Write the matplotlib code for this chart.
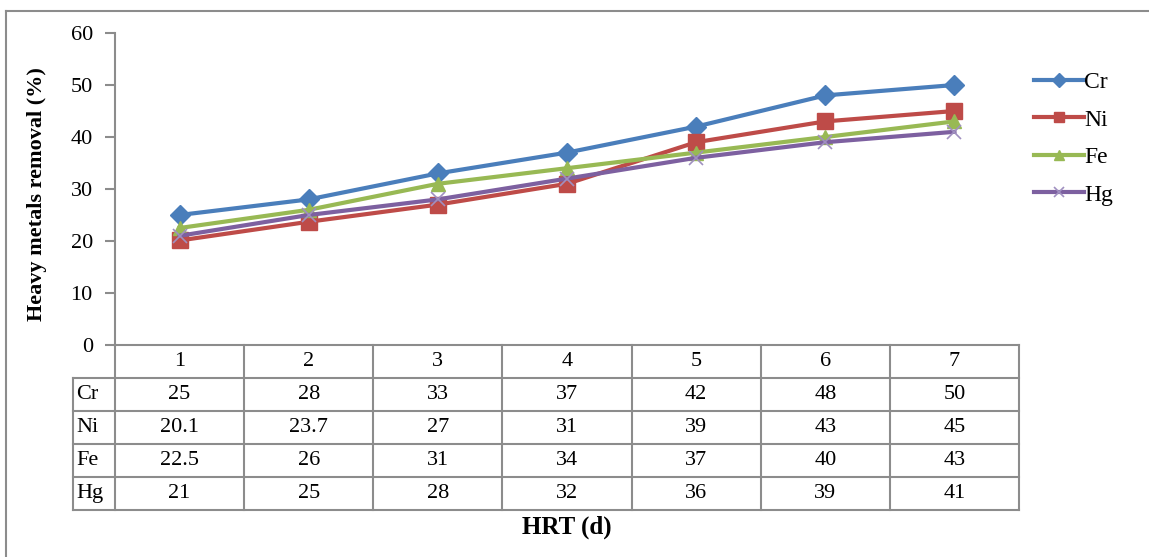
import matplotlib
matplotlib.use("Agg")
import matplotlib.pyplot as plt
from matplotlib.lines import Line2D

plt.rcParams['font.family'] = ['Liberation Serif', 'DejaVu Serif']

hrt = [1, 2, 3, 4, 5, 6, 7]
series_names = ["Cr", "Ni", "Fe", "Hg"]
cr = [25, 28, 33, 37, 42, 48, 50]
ni = [20.1, 23.7, 27, 31, 39, 43, 45]
fe = [22.5, 26, 31, 34, 37, 40, 43]
hg = [21, 25, 28, 32, 36, 39, 41]
table_text = {
    "Cr": ["25", "28", "33", "37", "42", "48", "50"],
    "Ni": ["20.1", "23.7", "27", "31", "39", "43", "45"],
    "Fe": ["22.5", "26", "31", "34", "37", "40", "43"],
    "Hg": ["21", "25", "28", "32", "36", "39", "41"],
}
yticks = [0, 10, 20, 30, 40, 50, 60]

colors = {"Cr": "#4A7EBB", "Ni": "#BE4B48", "Fe": "#98B954", "Hg": "#7D60A0"}
markers = {"Cr": "D", "Ni": "s", "Fe": "^", "Hg": "x"}
values = {"Cr": cr, "Ni": ni, "Fe": fe, "Hg": hg}

W, H = 1149, 557
fig = plt.figure(figsize=(W / 100, H / 100), dpi=100)

def fx(px):
    return px / W

def fy(py):
    return 1 - py / H

FS = 16
gray = "#8C8C8C"
# outer border (top and left)
fig.add_artist(Line2D([fx(6), fx(1160)], [fy(11), fy(11)], color=gray, lw=1.5))
fig.add_artist(Line2D([fx(6), fx(6)], [fy(11), fy(570)], color=gray, lw=1.5))

x0, x1 = 115, 1019
ytop, y0 = 33, 345
ax = fig.add_axes([fx(x0), fy(y0), (x1 - x0) / W, (y0 - ytop) / H])
ax.set_xlim(0.5, 7.5)
ax.set_ylim(0, 60)
ax.set_yticks(yticks)
ax.set_yticklabels([str(v) for v in yticks], fontsize=FS)
ax.set_xticks([])
for s in ["top", "right"]:
    ax.spines[s].set_visible(False)
ax.spines["left"].set_color(gray)
ax.spines["bottom"].set_color(gray)
ax.spines["left"].set_linewidth(1.5)
ax.spines["bottom"].set_linewidth(1.5)
ax.tick_params(axis="y", length=7, width=1.5, color=gray, pad=9)
ax.patch.set_alpha(0)

msizes = {"Cr": 10, "Ni": 11, "Fe": 10.5, "Hg": 10.5}
for name in series_names:
    mk = markers[name]
    kw = dict(marker=mk, markersize=msizes[name])
    if mk == "x":
        kw.update(markeredgecolor="#A090C0", markeredgewidth=1.2)
    ax.plot(hrt, values[name], color=colors[name], lw=3, label=name, clip_on=False, **kw)

leg = ax.legend(loc="upper left", bbox_to_anchor=((1025 - x0) / (x1 - x0), (y0 - 62) / (y0 - ytop)),
                frameon=False, fontsize=17, handlelength=2.1, handletextpad=0.0,
                labelspacing=0.68, borderaxespad=0, markerscale=0.7)

ax.set_ylabel("Heavy metals removal (%)", fontsize=16, fontweight="bold")
ax.yaxis.set_label_coords((47 - x0) / (x1 - x0), (y0 - 194) / (y0 - ytop))

# data table
row_h = 33
rows_y = [y0 + i * row_h for i in range(6)]  # 345..510
lab_x0 = 73
unit = (x1 - x0) / 7.0
def dx(v):
    return x0 + (v - 0.5) * unit

lw_t = 1.5
for i, yy in enumerate(rows_y):
    if i == 0:
        continue
    fig.add_artist(Line2D([fx(lab_x0), fx(x1)], [fy(yy), fy(yy)], color=gray, lw=lw_t))
fig.add_artist(Line2D([fx(x0), fx(x0)], [fy(y0), fy(rows_y[-1])], color=gray, lw=lw_t))
for k in range(1, 8):
    xx = dx(k + 0.5)
    fig.add_artist(Line2D([fx(xx), fx(xx)], [fy(y0), fy(rows_y[-1])], color=gray, lw=lw_t))
fig.add_artist(Line2D([fx(lab_x0), fx(lab_x0)], [fy(rows_y[1]), fy(rows_y[-1])], color=gray, lw=lw_t))

for k in hrt:
    fig.text(fx(dx(k)), fy(y0 + row_h / 2), str(k), ha="center", va="center", fontsize=FS)
for r, name in enumerate(series_names):
    yc = rows_y[r + 1] + row_h / 2
    fig.text(fx(lab_x0 + 3), fy(yc), name, ha="left", va="center", fontsize=FS)
    for k, txt in zip(hrt, table_text[name]):
        fig.text(fx(dx(k)), fy(yc), txt, ha="center", va="center", fontsize=FS)

fig.text(fx(567), fy(527), "HRT (d)", ha="center", va="center", fontsize=18, fontweight="bold")

fig.savefig("out.png", dpi=100)
